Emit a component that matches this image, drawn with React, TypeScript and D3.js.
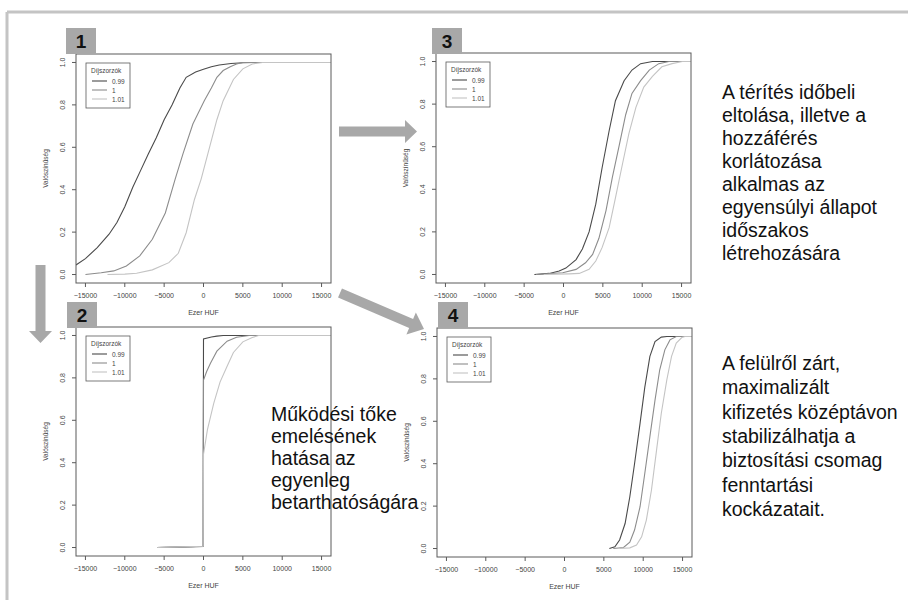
import * as d3 from "d3";
import React from "react";

// axis ticks and legend
const xTicks = [-15000, -10000, -5000, 0, 5000, 10000, 15000];
const yTicks = [0, 0.2, 0.4, 0.6, 0.8, 1.0];
const seriesNames = ["0.99", "1", "1.01"];
const seriesColors = ["#4a4a4a", "#8c8c8c", "#c4c4c4"];

// panel 1: base case (Ezer HUF, probability)
const p1Dark = [[-16200, 0.045], [-15000, 0.075], [-13500, 0.127], [-12000, 0.19], [-11000, 0.245], [-10000, 0.32], [-9000, 0.41], [-8000, 0.49], [-7000, 0.57], [-6000, 0.645], [-5000, 0.73], [-4000, 0.8], [-3000, 0.88], [-2200, 0.93], [-1000, 0.955], [0, 0.968], [1000, 0.98], [2000, 0.988], [3500, 0.995], [5000, 0.999], [6500, 1], [16500, 1]];
const p1Mid = [[-15000, 0], [-13000, 0.008], [-11400, 0.017], [-9800, 0.04], [-8100, 0.088], [-6500, 0.166], [-4850, 0.29], [-3600, 0.45], [-2600, 0.57], [-1350, 0.71], [100, 0.82], [1000, 0.88], [1700, 0.93], [2500, 0.962], [3400, 0.98], [4200, 0.993], [5000, 1], [16500, 1]];
const p1Light = [[-12200, 0], [-10000, 0.002], [-8500, 0.006], [-6500, 0.022], [-4400, 0.056], [-3200, 0.1], [-2200, 0.197], [-1150, 0.354], [-300, 0.45], [700, 0.59], [1700, 0.73], [2500, 0.82], [3800, 0.92], [5000, 0.97], [6200, 0.993], [7500, 1], [16500, 1]];

// panel 2
const p2Dark = [[-5900, 0], [-3000, 0.002], [-50, 0.005], [0, 0.984], [1000, 0.993], [1700, 0.997], [2500, 1], [16500, 1]];
const p2Mid = [[-5900, 0], [-3000, 0.003], [-50, 0.006], [0, 0.79], [400, 0.83], [900, 0.87], [1700, 0.926], [3000, 0.973], [4200, 0.992], [5800, 1], [16500, 1]];
const p2Light = [[-5900, 0], [-3000, 0.003], [-50, 0.006], [0, 0.44], [500, 0.556], [1300, 0.68], [2100, 0.78], [3000, 0.855], [3800, 0.92], [5000, 0.97], [6200, 0.99], [7000, 1], [16500, 1]];

// panel 3
const p3Dark = [[-3700, 0], [-1800, 0.005], [-550, 0.016], [300, 0.03], [1600, 0.07], [2400, 0.12], [3250, 0.2], [4100, 0.33], [4900, 0.5], [5800, 0.675], [6600, 0.816], [7700, 0.91], [8700, 0.96], [9800, 0.99], [11300, 1], [16500, 1]];
const p3Mid = [[-3500, 0], [-100, 0.008], [1600, 0.024], [2800, 0.055], [3700, 0.094], [4500, 0.17], [5400, 0.3], [6200, 0.455], [7100, 0.61], [7900, 0.75], [8700, 0.85], [9800, 0.91], [10900, 0.96], [12100, 0.99], [13400, 1], [16500, 1]];
const p3Light = [[-2500, 0], [700, 0.003], [2000, 0.005], [3250, 0.024], [4100, 0.063], [4900, 0.126], [5800, 0.22], [6600, 0.36], [7500, 0.52], [8300, 0.66], [9200, 0.785], [10200, 0.88], [11300, 0.93], [12500, 0.975], [13800, 0.99], [15100, 1], [16500, 1]];

// panel 4
const p4Dark = [[5700, 0], [6400, 0.008], [7000, 0.04], [7700, 0.118], [8300, 0.244], [8900, 0.4], [9600, 0.59], [10200, 0.76], [10850, 0.906], [11500, 0.976], [12300, 0.997], [13000, 1], [16500, 1]];
const p4Mid = [[6200, 0], [7500, 0.005], [8300, 0.03], [8900, 0.087], [9600, 0.197], [10200, 0.354], [10850, 0.528], [11500, 0.7], [12100, 0.843], [12750, 0.937], [13400, 0.984], [14200, 1], [16500, 1]];
const p4Light = [[7000, 0], [8300, 0.003], [9150, 0.016], [9800, 0.055], [10400, 0.134], [11050, 0.276], [11700, 0.465], [12300, 0.638], [13000, 0.795], [13600, 0.906], [14200, 0.969], [14900, 0.995], [15300, 1], [16500, 1]];

const middleText = ["Működési tőke", "emelésének", "hatása az", "egyenleg", "betarthatóságára"];
const rightTopText = ["A térítés időbeli", "eltolása, illetve a", "hozzáférés", "korlátozása", "alkalmas az", "egyensúlyi állapot", "időszakos", "létrehozására"];
const rightBottomText = ["A felülről zárt,", "maximalizált", "kifizetés középtávon", "stabilizálhatja a", "biztosítási csomag", "fenntartási", "kockázatait."];

const panels = [
  { id: "1", x: 76, y: 54, w: 255, h: 229, nx: 66, ny: 28, series: [p1Dark, p1Mid, p1Light] },
  { id: "2", x: 76, y: 327, w: 255, h: 229, nx: 67, ny: 302, series: [p2Dark, p2Mid, p2Light] },
  { id: "3", x: 436, y: 53, w: 255, h: 230, nx: 432, ny: 28, series: [p3Dark, p3Mid, p3Light] },
  { id: "4", x: 437, y: 328, w: 255, h: 229, nx: 438, ny: 302, series: [p4Dark, p4Mid, p4Light] },
];

const font = "'Liberation Sans', Arial, sans-serif";
const arrowFill = "#a8a8a8";

function Panel({ p }) {
  const x = d3.scaleLinear().domain([-16200, 16200]).range([p.x, p.x + p.w]);
  const y = d3.scaleLinear().domain([-0.04, 1.04]).range([p.y + p.h, p.y]);
  const line = d3.line().x((d) => x(d[0])).y((d) => y(d[1]));
  const bottom = p.y + p.h;
  const lx = p.x + 10;
  const ly = p.y + 9;
  return (
    <g>
      <clipPath id={"clip" + p.id}>
        <rect x={p.x} y={p.y} width={p.w} height={p.h} />
      </clipPath>
      <g clipPath={`url(#clip${p.id})`}>
        {p.series.map((s, i) => (
          <path key={i} d={line(s)} fill="none" stroke={seriesColors[i]} strokeWidth={1.1} />
        ))}
      </g>
      <rect x={p.x} y={p.y} width={p.w} height={p.h} fill="none" stroke="#5a5a5a" strokeWidth={1} />
      {xTicks.map((t) => (
        <g key={t}>
          <line x1={x(t)} x2={x(t)} y1={bottom} y2={bottom + 4} stroke="#5a5a5a" />
          <text x={x(t)} y={bottom + 15} textAnchor="middle" fontSize={7} fill="#444">
            {t < 0 ? "\u2212" + Math.abs(t) : t}
          </text>
        </g>
      ))}
      {yTicks.map((t) => (
        <g key={t}>
          <line x1={p.x - 4} x2={p.x} y1={y(t)} y2={y(t)} stroke="#5a5a5a" />
          <text transform={`translate(${p.x - 11},${y(t)}) rotate(-90)`} textAnchor="middle" fontSize={7} fill="#444">
            {t.toFixed(1)}
          </text>
        </g>
      ))}
      <text x={p.x + p.w / 2} y={bottom + 32} textAnchor="middle" fontSize={7} fill="#444">Ezer HUF</text>
      <text transform={`translate(${p.x - 28},${p.y + p.h / 2}) rotate(-90)`} textAnchor="middle" fontSize={6.5} fill="#444">
        Valószínűség
      </text>
      <rect x={lx} y={ly} width={44} height={45} fill="white" stroke="#5a5a5a" strokeWidth={0.8} />
      <text x={lx + 5} y={ly + 10} fontSize={6.5} fill="#444">Díjszorzók</text>
      {seriesNames.map((n, i) => (
        <g key={n}>
          <line x1={lx + 6} x2={lx + 21} y1={ly + 18 + i * 9} y2={ly + 18 + i * 9} stroke={seriesColors[i]} strokeWidth={1.1} />
          <text x={lx + 26} y={ly + 20.5 + i * 9} fontSize={6.5} fill="#444">{n}</text>
        </g>
      ))}
      <rect x={p.nx} y={p.ny} width={30} height={26} fill={arrowFill} />
      <text x={p.nx + 15} y={p.ny + 20} textAnchor="middle" fontSize={19} fontWeight="bold" fill="#111">{p.id}</text>
    </g>
  );
}

function Arrow({ x1, y1, x2, y2, shaft = 10, head = 23, headLen = 12 }) {
  const a = Math.atan2(y2 - y1, x2 - x1);
  const len = Math.hypot(x2 - x1, y2 - y1);
  const pts = [
    [0, -shaft / 2], [len - headLen, -shaft / 2], [len - headLen, -head / 2], [len, 0],
    [len - headLen, head / 2], [len - headLen, shaft / 2], [0, shaft / 2],
  ];
  return (
    <polygon
      points={pts.map((q) => q.join(",")).join(" ")}
      transform={`translate(${x1},${y1}) rotate(${(a * 180) / Math.PI})`}
      fill={arrowFill}
    />
  );
}

function TextBlock({ lines, x, y, lh }) {
  return (
    <text fontSize={19.5} fill="#111" fontFamily={font}>
      {lines.map((l, i) => (
        <tspan key={i} x={x} y={y + i * lh}>{l}</tspan>
      ))}
    </text>
  );
}

export default function App() {
  return (
    <svg width={908} height={600} style={{ position: "absolute", left: 0, top: 0, background: "white" }} fontFamily={font}>
      <rect x={0} y={0} width={908} height={600} fill="white" />
      <line x1={7} x2={908} y1={12} y2={12} stroke="#c4c4c4" strokeWidth={3} />
      <line x1={7} x2={7} y1={12} y2={600} stroke="#c4c4c4" strokeWidth={3} />
      {panels.map((p) => (
        <Panel key={p.id} p={p} />
      ))}
      <Arrow x1={339} y1={131.5} x2={417} y2={131.5} />
      <Arrow x1={40.5} y1={265} x2={40.5} y2={343} />
      <Arrow x1={340} y1={293} x2={424} y2={329} head={24} headLen={14} />
      <TextBlock lines={middleText} x={271} y={421} lh={22} />
      <TextBlock lines={rightTopText} x={722} y={98.5} lh={23.1} />
      <TextBlock lines={rightBottomText} x={722} y={370} lh={24.3} />
    </svg>
  );
}
